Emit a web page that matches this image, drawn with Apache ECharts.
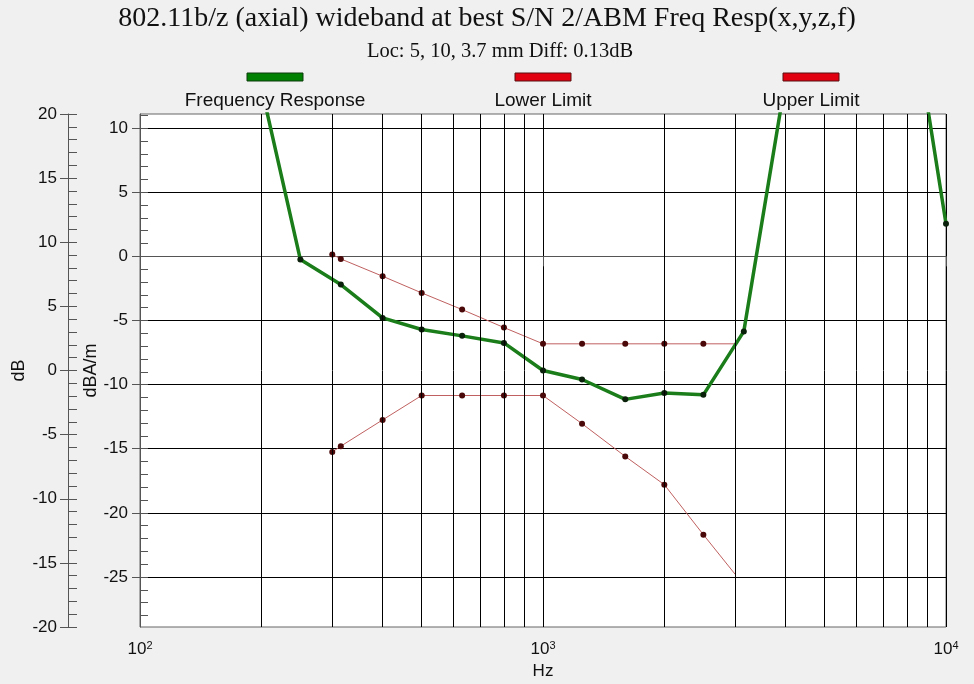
<!DOCTYPE html>
<html>
<head>
<meta charset="utf-8">
<title>802.11b/z Freq Resp</title>
<script src="https://cdn.jsdelivr.net/npm/echarts@6/dist/echarts.min.js"></script>
<style>
  html, body { margin: 0; padding: 0; background: #f0f0f0; }
  #chart { width: 974px; height: 684px; }
</style>
</head>
<body>
<div id="chart"></div>
<script>
// Measured response, dBA/m, on 1/3-octave frequencies (Hz)
const responseHz = [200, 250, 315, 400, 500, 630, 800, 1000, 1250, 1600, 2000, 2500, 3150, 4000, 5000, 6300, 8000, 10000];
const responseDb = [13.2, -0.25, -2.2, -4.8, -5.7, -6.2, -6.75, -8.9, -9.6, -11.15, -10.65, -10.8, -5.85, 13.8, 25, 27, 21.8, 2.55];

// Tolerance mask
const limitHz = [300, 315, 400, 500, 630, 800, 1000, 1250, 1600, 2000, 2500, 3000];
const upperLimitDb = [0.15, -0.2, -1.55, -2.85, -4.15, -5.55, -6.82, -6.82, -6.82, -6.82, -6.82, -6.82];
const lowerLimitDb = [-15.25, -14.8, -12.75, -10.85, -10.85, -10.85, -10.85, -13.05, -15.6, -17.8, -21.7, -24.8];

// Axis scales
const dbaRange = [-28.9, 11.1];          // dBA/m (data axis)
const dbaMajor = [-25, -20, -15, -10, -5, 0, 5, 10];
const relRange = [-20, 20];              // dB, relative to 1 kHz
const gridHz = [200, 300, 400, 500, 600, 700, 800, 900, 2000, 3000, 4000, 5000, 6000, 7000, 8000, 9000];

const titleText = '802.11b/z (axial) wideband at best S/N 2/ABM Freq Resp(x,y,z,f)';
const subtitleText = 'Loc: 5, 10, 3.7 mm Diff: 0.13dB';
const legendNames = ['Frequency Response', 'Lower Limit', 'Upper Limit'];
const legendColors = ['#008000', '#e00010', '#e00010'];

const dbaMinor = [];
for (let v = Math.ceil(dbaRange[0]); v <= Math.floor(dbaRange[1]); v++) dbaMinor.push(v);

const sans = '"Liberation Sans", Arial, sans-serif';
const serif = '"Liberation Serif", "Times New Roman", serif';
const axisGray = '#555';

function pairs(xs, ys, dropLastSymbol) {
  return xs.map((x, i) => {
    const item = { value: [x, ys[i]] };
    if (dropLastSymbol && i === xs.length - 1) item.symbol = 'none';
    return item;
  });
}

const chart = echarts.init(document.getElementById('chart'), null, { renderer: 'canvas' });

// Legend: swatch above each label
const legendGraphics = [];
const legendCenters = [275, 543, 811];
legendNames.forEach((name, i) => {
  legendGraphics.push({
    type: 'rect',
    shape: { x: legendCenters[i] - 28, y: 73, width: 56, height: 8 },
    style: { fill: legendColors[i], stroke: i === 0 ? '#0b3d0b' : '#5a1010', lineWidth: 1 }
  });
  legendGraphics.push({
    type: 'text',
    x: legendCenters[i], y: 101,
    style: { text: name, fill: '#111', font: '19px ' + sans, textAlign: 'center', textVerticalAlign: 'middle' }
  });
});

chart.setOption({
  animation: false,
  backgroundColor: '#f0f0f0',
  title: [
    {
      text: titleText,
      left: 'center',
      top: 0,
      textStyle: { fontFamily: serif, fontSize: 28, fontWeight: 'normal', color: '#111' }
    },
    {
      text: subtitleText,
      left: 362,
      top: 36,
      textStyle: { fontFamily: serif, fontSize: 20.5, fontWeight: 'normal', color: '#111' }
    }
  ],
  graphic: legendGraphics,
  grid: {
    left: 140, right: 28, top: 114, bottom: 57,
    outerBoundsMode: 'none',
    containLabel: false,
    show: true, backgroundColor: '#ffffff', borderColor: '#666', borderWidth: 1
  },
  xAxis: {
    type: 'log', logBase: 10, min: 100, max: 10000,
    name: 'Hz', nameLocation: 'middle', nameGap: 36,
    nameTextStyle: { fontFamily: sans, fontSize: 17, color: '#111' },
    axisLine: { lineStyle: { color: axisGray, width: 1 } },
    axisTick: { length: 10, lineStyle: { color: axisGray } },
    axisLabel: {
      margin: 13,
      formatter: v => '{b|10}{s|' + Math.round(Math.log10(v)) + '}',
      rich: {
        b: { fontFamily: sans, fontSize: 17, color: '#111' },
        s: { fontFamily: sans, fontSize: 11, color: '#111', verticalAlign: 'top', padding: [0, 0, 8, 0] }
      }
    },
    splitLine: { show: true, lineStyle: { color: '#000', width: 1 } }
  },
  yAxis: [
    {
      type: 'value', min: dbaRange[0], max: dbaRange[1], position: 'left', offset: 0,
      name: 'dBA/m', nameLocation: 'middle', nameGap: 40, nameRotate: 90, nameMoveOverlap: false,
      nameTextStyle: { fontFamily: sans, fontSize: 18, color: '#111' },
      axisLine: { show: true, lineStyle: { color: axisGray } },
      axisTick: { show: true, customValues: dbaMajor, length: 8, lineStyle: { color: axisGray } },
      axisLabel: { customValues: dbaMajor, fontFamily: sans, fontSize: 17, color: '#111', margin: 12 },
      splitLine: { show: true, lineStyle: { color: '#000', width: 1 } }
    },
    {
      type: 'value', min: dbaRange[0], max: dbaRange[1], position: 'left', offset: 0,
      axisLine: { show: false },
      axisTick: { show: true, inside: true, customValues: dbaMinor, length: 8, lineStyle: { color: axisGray } },
      axisLabel: { show: false },
      splitLine: { show: false }
    },
    {
      type: 'value', min: relRange[0], max: relRange[1], interval: 5, position: 'left', offset: 72,
      name: 'dB', nameLocation: 'middle', nameGap: 40, nameRotate: 90, nameMoveOverlap: false,
      nameTextStyle: { fontFamily: sans, fontSize: 18, color: '#111' },
      axisLine: { show: true, lineStyle: { color: axisGray } },
      axisTick: { show: true, length: 8, lineStyle: { color: axisGray } },
      axisLabel: { fontFamily: sans, fontSize: 17, color: '#111', margin: 11 },
      splitLine: { show: false }
    },
    {
      type: 'value', min: relRange[0], max: relRange[1], interval: 1, position: 'left', offset: 72,
      axisLine: { show: false },
      axisTick: { show: true, inside: true, length: 9, lineStyle: { color: axisGray } },
      axisLabel: { show: false },
      splitLine: { show: false }
    }
  ],
  series: [
    {
      name: 'grid',
      type: 'line',
      data: [],
      silent: true,
      z: 1,
      markLine: {
        silent: true,
        symbol: 'none',
        label: { show: false },
        lineStyle: { color: '#000', width: 1, type: 'solid' },
        data: gridHz.map(f => ({ xAxis: f }))
      }
    },
    {
      name: 'Lower Limit',
      type: 'line',
      data: pairs(limitHz, lowerLimitDb, true),
      z: 3,
      symbol: 'circle', symbolSize: 6,
      lineStyle: { color: '#c06060', width: 1 },
      itemStyle: { color: '#4a0808' }
    },
    {
      name: 'Upper Limit',
      type: 'line',
      data: pairs(limitHz, upperLimitDb, true),
      z: 3,
      symbol: 'circle', symbolSize: 6,
      lineStyle: { color: '#c06060', width: 1 },
      itemStyle: { color: '#4a0808' }
    },
    {
      name: 'Frequency Response',
      type: 'line',
      data: pairs(responseHz, responseDb, false),
      z: 4,
      clip: true,
      symbol: 'circle', symbolSize: 6,
      lineStyle: { color: '#1a7d1a', width: 3.5 },
      itemStyle: { color: '#0a200a' }
    }
  ]
});
</script>
</body>
</html>
